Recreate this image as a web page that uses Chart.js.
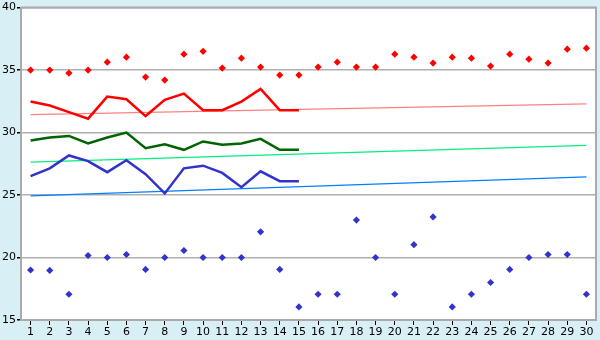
<!DOCTYPE html>
<html>
<head>
<meta charset="utf-8">
<script src="https://cdn.jsdelivr.net/npm/chart.js@4/dist/chart.umd.min.js"></script>
<style>
html,body{margin:0;padding:0;background:#d9eff6;}
#wrap{width:600px;height:340px;position:relative;}
</style>
</head>
<body>
<div id="wrap"><canvas id="c"></canvas></div>
<script>
const categories = ['1','2','3','4','5','6','7','8','9','10','11','12','13','14','15','16','17','18','19','20','21','22','23','24','25','26','27','28','29','30'];
const yTicks = [15,20,25,30,35,40];

const highPoints = [35.0,35.0,34.76,35.0,35.63,36.03,34.44,34.2,36.27,36.5,35.16,35.95,35.24,34.6,34.6,35.24,35.63,35.24,35.24,36.27,36.03,35.56,36.03,35.95,35.32,36.27,35.87,35.56,36.67,36.75];
const lowPoints = [19.0,18.97,17.06,20.16,20.0,20.24,19.05,20.0,20.56,20.0,20.0,20.0,22.06,19.05,16.05,17.06,17.06,23.0,20.0,17.06,21.03,23.25,16.05,17.06,18.0,19.05,20.0,20.24,20.24,17.06];

const redLine = [32.48,32.17,31.64,31.11,32.88,32.67,31.32,32.62,33.12,31.79,31.79,32.48,33.49,31.79,31.79];
const greenLine = [29.37,29.6,29.73,29.13,29.6,30.0,28.75,29.07,28.62,29.29,29.02,29.13,29.5,28.62,28.62];
const blueLine = [26.51,27.14,28.17,27.72,26.83,27.78,26.67,25.13,27.14,27.35,26.77,25.63,26.9,26.11,26.11];

// trend lines: start and end values (straight lines across all days)
const redTrend = [31.43, 32.3];
const greenTrend = [27.63, 28.97];
const blueTrend = [24.93, 26.45];

function padTo30(arr){ const out = arr.slice(); while(out.length < categories.length) out.push(null); return out; }
function endpoints(pair){ const out = categories.map(()=>null); out[0]=pair[0]; out[out.length-1]=pair[1]; return out; }

const frame = {
  id:'frame',
  beforeDraw(chart){
    const {ctx, chartArea:a} = chart;
    ctx.save(); ctx.fillStyle='#ffffff'; ctx.fillRect(a.left,a.top,a.right-a.left,a.bottom-a.top); ctx.restore();
  },
  afterDraw(chart){
    const {ctx, chartArea:a} = chart;
    ctx.save(); ctx.strokeStyle='#aaaaaa'; ctx.lineWidth=2;
    ctx.beginPath(); ctx.moveTo(a.left,a.top); ctx.lineTo(a.right,a.top); ctx.lineTo(a.right,a.bottom); ctx.stroke();
    ctx.restore();
  }
};

new Chart(document.getElementById('c'), {
  type:'line',
  data:{
    labels:categories,
    datasets:[
      {data:endpoints(redTrend), borderColor:'#ff8080', borderWidth:1.2, pointRadius:0, spanGaps:true, order:5},
      {data:endpoints(greenTrend), borderColor:'#00f080', borderWidth:1.2, pointRadius:0, spanGaps:true, order:5},
      {data:endpoints(blueTrend), borderColor:'#0080ff', borderWidth:1.2, pointRadius:0, spanGaps:true, order:5},
      {data:padTo30(redLine), borderColor:'#ff0000', borderWidth:2.5, pointRadius:0, order:2},
      {data:padTo30(greenLine), borderColor:'#006400', borderWidth:2.5, pointRadius:0, order:2},
      {data:padTo30(blueLine), borderColor:'#3333cc', borderWidth:2.5, pointRadius:0, order:2},
      {data:highPoints, showLine:false, pointStyle:'rectRot', pointRadius:3.6, backgroundColor:'#ff0000', borderColor:'#ff0000', borderWidth:0, order:1},
      {data:lowPoints, showLine:false, pointStyle:'rectRot', pointRadius:3.6, backgroundColor:'#3333cc', borderColor:'#3333cc', borderWidth:0, order:1}
    ]
  },
  options:{
    responsive:true, maintainAspectRatio:false, animation:false,
    events:[],
    layout:{padding:{top:5,right:4,left:0,bottom:0}},
    plugins:{legend:{display:false}, tooltip:{enabled:false}},
    scales:{
      x:{
        offset:true,
        grid:{drawOnChartArea:false, tickLength:5, tickColor:'#000000', offset:false},
        border:{color:'#aaaaaa', width:2},
        ticks:{color:'#000000', font:{family:'DejaVu Sans', size:11}, padding:1, maxRotation:0, autoSkip:false},
        afterFit(s){ s.height = 20; }
      },
      y:{
        min:15, max:40,
        afterBuildTicks(s){ s.ticks = yTicks.map(v=>({value:v})); },
        grid:{color:'#b0b0b0', lineWidth:1.5, tickLength:4, tickColor:'#000000'},
        border:{color:'#aaaaaa', width:2},
        ticks:{color:'#000000', font:{family:'DejaVu Sans', size:11}, padding:1},
        afterFit(s){ s.width = 21; }
      }
    }
  },
  plugins:[frame]
});
</script>
</body>
</html>
